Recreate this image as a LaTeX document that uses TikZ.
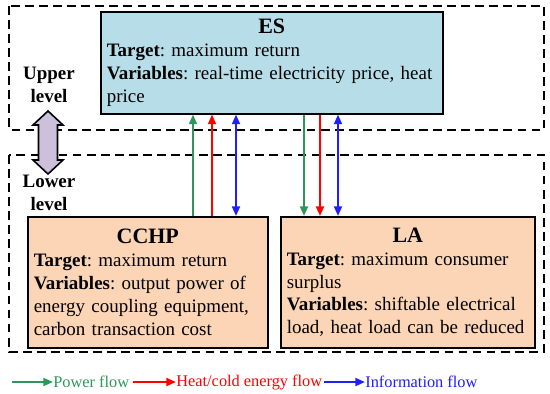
\documentclass[tikz,border=0pt]{standalone}
\usepackage{fontspec}
\setmainfont{Liberation Serif}
\usetikzlibrary{arrows.meta}
\frenchspacing
\definecolor{esblue}{RGB}{183,222,232}
\definecolor{lowbox}{RGB}{251,213,181}
\definecolor{lav}{RGB}{204,192,218}
\definecolor{pgreen}{RGB}{46,150,90}
\definecolor{hred}{RGB}{255,0,0}
\definecolor{iblue}{RGB}{30,30,255}
\newcommand{\boxtitle}[1]{\hspace*{\fill}{\fontsize{12.5}{15}\selectfont\bfseries #1}\hspace*{\fill}\mbox{}}

\begin{document}
\begin{tikzpicture}[x=0.02cm, y=-0.02cm, box/.style={
		draw,
		line width=0.9pt,
		anchor=north west,
		align=left,
		inner xsep=0.12cm,
		inner ysep=0pt,
		font=\fontsize{10.8}{13}\selectfont
	},
	frame/.style={draw, line width=0.9pt, dash pattern=on 5pt off 3pt},
	lvl/.style={align=center, font=\fontsize{10.8}{13}\selectfont\bfseries},
	flow/.style={line width=1.2pt, -{Triangle[length=5.5pt,width=4.5pt]}},
	both/.style={line width=1.2pt, {Triangle[length=5.5pt,width=4.5pt]}-{Triangle[length=5.5pt,width=4.5pt]}},
	legtxt/.style={anchor=west, inner sep=0pt, font=\fontsize{9.3}{11}\selectfont}
	]
	
	\useasboundingbox (0,0) rectangle (550,393);
	
	%Ebenen
	\draw[frame] (9,6) rectangle (544,130);
	\draw[frame] (9,155) rectangle (544,352);
	
	\node[lvl] (upper) at (49,85) {Upper\\level};
	\node[lvl] (lower) at (49,193) {Lower\\level};
	
	\draw[line width=0.9pt, fill=lav]
	(48,111) -- (63,125) -- (57.5,125) -- (57.5,160) -- (63,160) -- (48,174)
	-- (33,160) -- (38.5,160) -- (38.5,125) -- (33,125) -- cycle;
	
	\node[box, fill=esblue, text width=6.6cm, minimum height=2.04cm] (es) at (100,11)
	{\boxtitle{ES}\\
		\textbf{Target}: maximum return\\
		\textbf{Variables}: real-time electricity price, heat\\
		price};
	
	\node[box, fill=lowbox, text width=4.56cm, minimum height=2.62cm] (cchp) at (27,216)
	{\boxtitle{CCHP}\\
		\textbf{Target}: maximum return\\
		\textbf{Variables}: output power of\\
		energy coupling equipment,\\
		carbon transaction cost};
	
	\node[box, fill=lowbox, text width=4.84cm, minimum height=2.62cm] (la) at (280,216)
	{\boxtitle{LA}\\
		\textbf{Target}: maximum consumer\\
		surplus\\
		\textbf{Variables}: shiftable electrical\\
		load, heat load can be reduced};
	
	%Fluesse
	\coordinate (g1) at (193,0);
	\coordinate (r1) at (212,0);
	\coordinate (b1) at (236,0);
	\coordinate (g2) at (304,0);
	\coordinate (r2) at (320,0);
	\coordinate (b2) at (338,0);
	
	\draw[flow, pgreen] (cchp.north -| g1) -- (es.south -| g1);
	\draw[flow, hred] (cchp.north -| r1) -- (es.south -| r1);
	\draw[both, iblue] (cchp.north -| b1) -- (es.south -| b1);
	
	\draw[flow, pgreen] (es.south -| g2) -- (la.north -| g2);
	\draw[flow, hred] (es.south -| r2) -- (la.north -| r2);
	\draw[both, iblue] (es.south -| b2) -- (la.north -| b2);
	
	%Legende
	\coordinate (pw0) at (12,382);
	\coordinate (ht0) at (133,382);
	\coordinate (in0) at (324,382);
	\node[legtxt, text=pgreen] (pw) at (53,382) {Power flow};
	\node[legtxt, text=hred] (ht) at (176,382) {Heat/cold energy flow};
	\node[legtxt, text=iblue] (in) at (365,382) {Information flow};
	
	\draw[flow, pgreen] (pw0) -- (pw.west);
	\draw[flow, hred] (ht0) -- (ht.west);
	\draw[flow, iblue] (in0) -- (in.west);
	
\end{tikzpicture}
\end{document}
